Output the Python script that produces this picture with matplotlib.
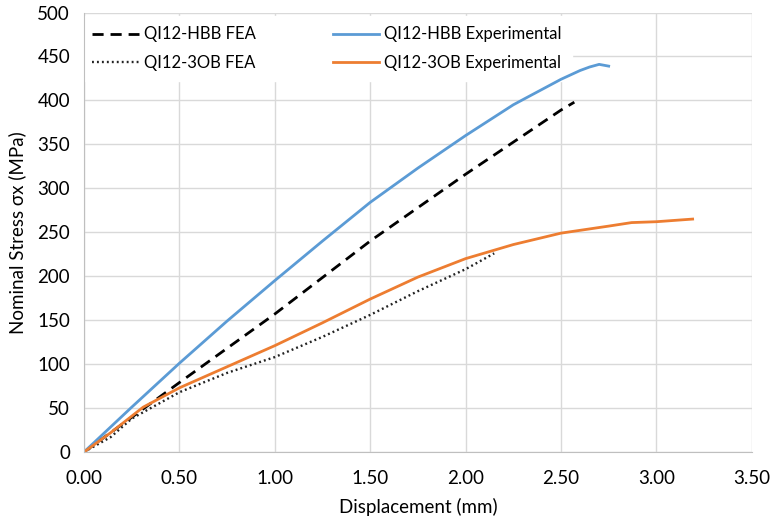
import matplotlib
matplotlib.use("Agg")
import matplotlib.pyplot as plt

plt.rcParams['font.family'] = ['Lato', 'DejaVu Sans']

# QI12-HBB experimental
hbb_exp_x = [0.0, 0.25, 0.5, 0.75, 1.0, 1.25, 1.5, 1.75, 2.0, 2.25, 2.31, 2.5, 2.6, 2.65, 2.7, 2.75]
hbb_exp_y = [0, 51, 101, 149, 195, 240, 284, 323, 360, 395, 402, 424, 434, 438, 441, 439]

# QI12-HBB FEA
hbb_fea_x = [0.0, 0.5, 1.0, 1.5, 2.0, 2.5, 2.57]
hbb_fea_y = [0, 79, 157, 240, 316, 389, 398]

# QI12-3OB experimental
ob_exp_x = [0.0, 0.14, 0.31, 0.5, 0.75, 1.0, 1.25, 1.5, 1.75, 2.0, 2.25, 2.5, 2.75, 2.87, 3.0, 3.19]
ob_exp_y = [0, 22, 51, 73, 97, 121, 147, 174, 199, 220, 236, 249, 257, 261, 262, 265]

# QI12-3OB FEA
ob_fea_x = [0.0, 0.14, 0.25, 0.5, 0.75, 1.0, 1.25, 1.5, 1.75, 2.0, 2.15]
ob_fea_y = [0, 17, 38, 68, 90, 108, 131, 156, 183, 208, 226]

fig = plt.figure(figsize=(7.72, 5.21), dpi=100)
ax = fig.add_axes([0.1088, 0.1324, 0.865, 0.8436])

l1, = ax.plot(hbb_fea_x, hbb_fea_y, color='black', lw=2, linestyle=(0, (4, 2.5)), label='QI12-HBB FEA')
l2, = ax.plot(ob_fea_x, ob_fea_y, color='#222222', lw=1.7, linestyle=(0, (0.8, 1.3)), label='QI12-3OB FEA')
l3, = ax.plot(hbb_exp_x, hbb_exp_y, color='#5B9BD5', lw=2, label='QI12-HBB Experimental')
l4, = ax.plot(ob_exp_x, ob_exp_y, color='#ED7D31', lw=2, label='QI12-3OB Experimental')

ax.set_xlim(0, 3.5)
ax.set_ylim(0, 500)
ax.set_xticks([0, 0.5, 1.0, 1.5, 2.0, 2.5, 3.0, 3.5])
ax.set_xticklabels(['%.2f' % v for v in ax.get_xticks()])
ax.set_yticks(range(0, 501, 50))
ax.grid(True, color='#D9D9D9', lw=1)
ax.set_axisbelow(True)
for s in ['top', 'right']:
    ax.spines[s].set_visible(False)
for s in ['left', 'bottom']:
    ax.spines[s].set_color('#BFBFBF')
ax.tick_params(length=0, labelsize=13.5, colors='#404040')
ax.tick_params(axis='x', pad=13)
ax.tick_params(axis='y', pad=10)
for lab in ax.get_xticklabels() + ax.get_yticklabels():
    lab.set_color('black')

ax.set_xlabel('Displacement (mm)', fontsize=13.5, labelpad=8)
ax.set_ylabel('Nominal Stress σx (MPa)', fontsize=13.5, labelpad=8)

leg = ax.legend(handles=[l1, l2, l3, l4], ncol=2, loc='upper left',
                bbox_to_anchor=(-0.005, 0.995), frameon=True, fontsize=12,
                handlelength=2.8, handletextpad=0.3, columnspacing=4.6,
                labelspacing=0.75, borderaxespad=0.3)
leg.get_frame().set_edgecolor('white')
leg.get_frame().set_facecolor('white')
leg.get_frame().set_alpha(1)
leg.get_frame().set_boxstyle('square', pad=0.2)
leg.set_zorder(1.5)

fig.savefig('out.png', dpi=100)
